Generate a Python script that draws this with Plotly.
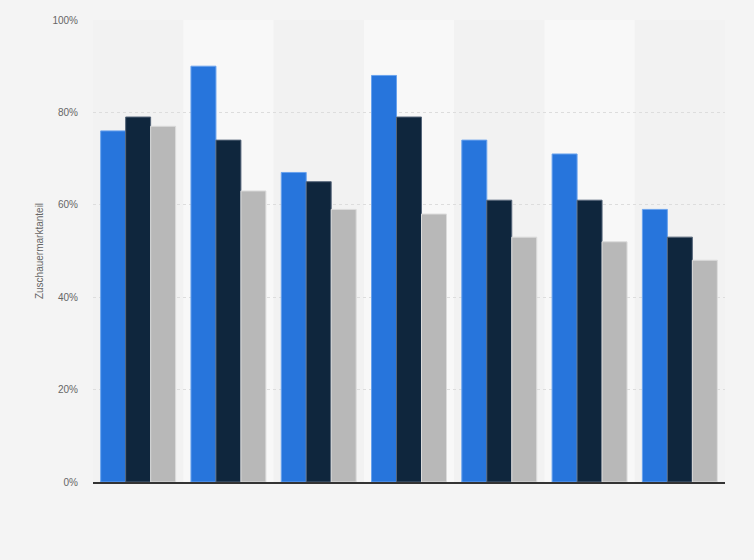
import plotly.graph_objects as go

categories = ["1", "2", "3", "4", "5", "6", "7"]
series_names = ["Serie 1", "Serie 2", "Serie 3"]
series_values = [
    [76, 90, 67, 88, 74, 71, 59],
    [79, 74, 65, 79, 61, 61, 53],
    [77, 63, 59, 58, 53, 52, 48],
]
colors = ["#2775dc", "#0f263d", "#b8b8b8"]
line_colors = ["#6aa3ee", "#56667a", "#dcdcdc"]
y_ticks = [0, 20, 40, 60, 80, 100]
y_tick_labels = ["0%", "20%", "40%", "60%", "80%", "100%"]

fig = go.Figure()
for name, vals, c, lc in zip(series_names, series_values, colors, line_colors):
    fig.add_trace(go.Bar(
        x=categories, y=vals, name=name,
        marker=dict(color=c, line=dict(color=lc, width=1)),
        hovertemplate="%{y}%<extra></extra>",
    ))

shapes = []
for i in range(len(categories)):
    if i % 2 == 1:
        shapes.append(dict(type="rect", xref="x", yref="y",
                           x0=i - 0.5, x1=i + 0.5, y0=0, y1=100,
                           fillcolor="#f8f8f8", line=dict(width=0), layer="below"))

fig.update_layout(
    width=754, height=560,
    margin=dict(l=93, r=29, t=20, b=78),
    paper_bgcolor="#f4f4f4",
    plot_bgcolor="#f2f2f2",
    barmode="group",
    bargap=0.17,
    bargroupgap=0.0,
    showlegend=False,
    shapes=shapes,
    font=dict(family="Liberation Sans, Arial, sans-serif", size=10, color="#666666"),
    xaxis=dict(
        showticklabels=False, showgrid=False, zeroline=False,
        showline=True, linecolor="#333333", linewidth=1.5,
        ticks="",
    ),
    yaxis=dict(
        range=[0, 100], tickmode="array", tickvals=y_ticks, ticktext=y_tick_labels,
        showgrid=True, gridcolor="#dddddd", griddash="dot", gridwidth=1,
        zeroline=False, showline=False,
        ticks="", ticklabelstandoff=14,
        tickfont=dict(size=10, color="#666666"),
        title=dict(text="Zuschauermarktanteil", font=dict(size=10, color="#666666"), standoff=6),
    ),
)

fig.write_html("out.html", config={"displayModeBar": False},
               post_script="document.body.style.margin='0';")
